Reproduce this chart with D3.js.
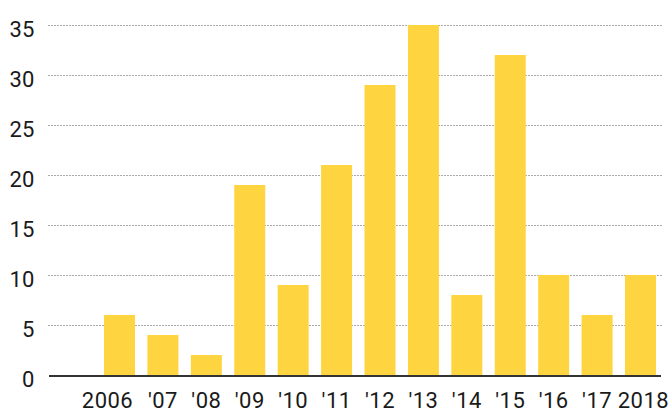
<!DOCTYPE html>
<html>
<head>
<meta charset="utf-8">
<script src="https://cdn.jsdelivr.net/npm/d3@7"></script>
<style>
  html, body { margin: 0; padding: 0; background: #fff; }
  svg { display: block; }
  text { font-family: Roboto, "Noto Sans", sans-serif; fill: #1a1a1a; }
</style>
</head>
<body>
<svg id="chart" width="672" height="412"></svg>
<script>
// Yearly counts, 2006–2018
const categories = ["2006", "'07", "'08", "'09", "'10", "'11", "'12", "'13", "'14", "'15", "'16", "'17", "2018"];
const values = [6, 4, 2, 19, 9, 21, 29, 35, 8, 32, 10, 6, 10];
const yTicks = [0, 5, 10, 15, 20, 25, 30, 35];

const svg = d3.select("#chart");

const x = d3.scaleBand()
  .domain(categories)
  .range([97.8, 662.2])
  .paddingInner(0.286)
  .paddingOuter(0.143);

const y = d3.scaleLinear()
  .domain([0, 35])
  .range([375, 25]);

// Dotted gridlines (behind the bars)
svg.append("g")
  .selectAll("line")
  .data(yTicks.filter(d => d > 0))
  .join("line")
  .attr("x1", 48.5)
  .attr("x2", 663)
  .attr("y1", d => y(d) + 0.5)
  .attr("y2", d => y(d) + 0.5)
  .attr("stroke", "#555")
  .attr("stroke-width", 1)
  .attr("stroke-dasharray", "1,2");

// Y axis labels
const yAxis = d3.axisLeft(y).tickValues(yTicks).tickSize(0).tickPadding(0);
const yg = svg.append("g")
  .attr("transform", "translate(34.3,0)")
  .call(yAxis);
yg.select(".domain").remove();
yg.selectAll("text")
  .attr("font-size", 22)
  .attr("font-family", "Roboto, 'Noto Sans', sans-serif")
  .attr("fill", "#1a1a1a")
  .attr("dy", "0.5em")
  .attr("text-anchor", "end");

// Bars
svg.append("g")
  .selectAll("rect")
  .data(values)
  .join("rect")
  .attr("x", (d, i) => x(categories[i]))
  .attr("width", x.bandwidth())
  .attr("y", d => y(d))
  .attr("height", d => y(0) - y(d))
  .attr("fill", "#FED440");

// Baseline
svg.append("line")
  .attr("x1", 49)
  .attr("x2", 661)
  .attr("y1", y(0) + 1)
  .attr("y2", y(0) + 1)
  .attr("stroke", "#333")
  .attr("stroke-width", 2);

// X axis labels
const xAxis = d3.axisBottom(x).tickSize(0).tickPadding(0);
const xg = svg.append("g")
  .attr("transform", "translate(0,392)")
  .call(xAxis);
xg.select(".domain").remove();
xg.selectAll("text")
  .attr("font-size", 22)
  .attr("font-family", "Roboto, 'Noto Sans', sans-serif")
  .attr("fill", "#1a1a1a")
  .attr("letter-spacing", "0.5px")
  .attr("dy", "0.72em")
  .attr("dx", (d, i) => i === 0 ? -12 : (i === categories.length - 1 ? 3 : 0));
</script>
</body>
</html>
